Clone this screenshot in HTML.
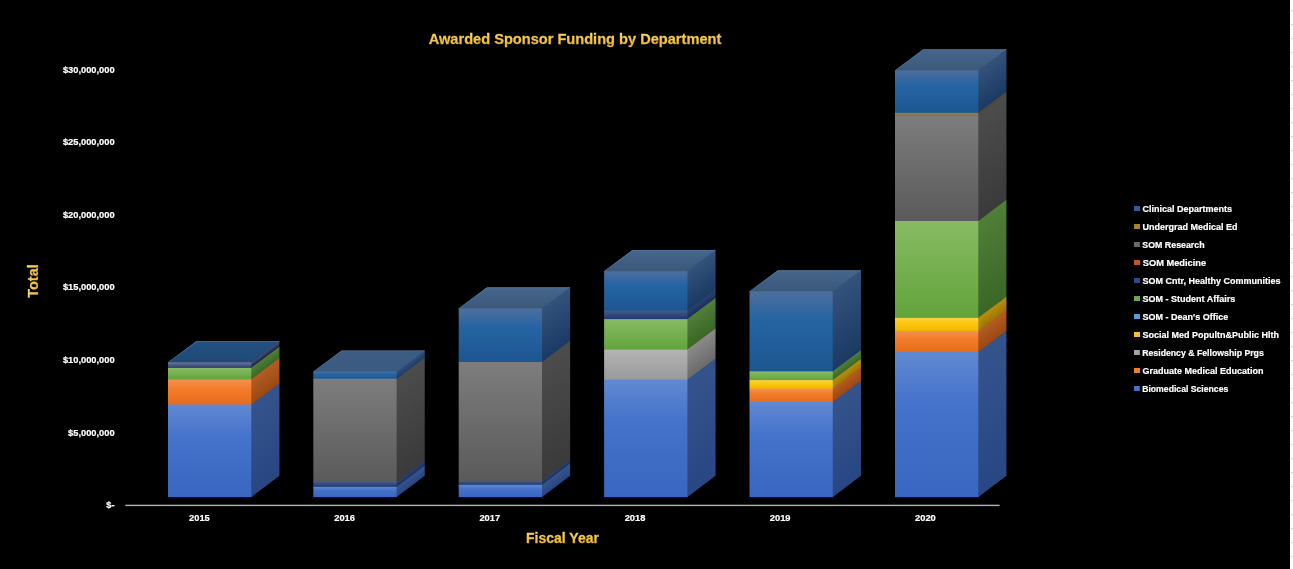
<!DOCTYPE html>
<html><head><meta charset="utf-8"><style>
html,body{margin:0;padding:0;background:#000;}
body{will-change:transform;width:1293px;height:569px;position:relative;overflow:hidden;font-family:"Liberation Sans",Arial,sans-serif;}
.edge{position:absolute;left:1290px;top:0;width:3px;height:569px;background:#fff;}
.title{position:absolute;left:275px;width:600px;top:29.5px;text-align:center;color:#f4c246;background:linear-gradient(180deg,#f9d566 20%,#eeb52e 85%);-webkit-background-clip:text;background-clip:text;-webkit-text-fill-color:transparent;-webkit-text-stroke:0.35px transparent;font-weight:bold;font-size:15.5px;line-height:18px;white-space:nowrap;transform:scaleX(0.942);}
.yl{position:absolute;right:1178.4px;color:#fff;-webkit-text-stroke:0.2px #fff;font-weight:bold;font-size:9.3px;line-height:12px;white-space:nowrap;text-align:right;}
.xl{position:absolute;top:512px;width:40px;text-align:center;color:#fff;-webkit-text-stroke:0.2px #fff;font-weight:bold;font-size:9.3px;line-height:12px;}
.xt{position:absolute;left:462.5px;width:200px;top:529px;text-align:center;color:#f4c246;background:linear-gradient(180deg,#f9d566 20%,#eeb52e 85%);-webkit-background-clip:text;background-clip:text;-webkit-text-fill-color:transparent;-webkit-text-stroke:0.35px transparent;font-weight:bold;font-size:14px;line-height:18px;}
.yt{position:absolute;left:32.5px;top:281.2px;width:60px;height:18px;margin-left:-30px;margin-top:-9px;text-align:center;color:#f4c246;background:linear-gradient(180deg,#f9d566 20%,#eeb52e 85%);-webkit-background-clip:text;background-clip:text;-webkit-text-fill-color:transparent;-webkit-text-stroke:0.35px transparent;font-weight:bold;font-size:15.5px;line-height:18px;transform:rotate(-90deg) scaleX(0.93);}
.lg{position:absolute;left:1134px;color:#fff;-webkit-text-stroke:0.2px #fff;font-weight:bold;font-size:9px;line-height:12px;white-space:nowrap;}
.sw{display:inline-block;width:6px;height:5px;margin-right:2.5px;vertical-align:1.5px;}
svg{position:absolute;left:0;top:0;}
</style></head><body>
<svg width="1293" height="569" viewBox="0 0 1293 569">
<defs>
<linearGradient id="f_blue" x1="0" y1="0" x2="0" y2="1"><stop offset="0" stop-color="#6189d2"/><stop offset="0.35" stop-color="#4573cb"/><stop offset="1" stop-color="#3866c0"/></linearGradient>
<linearGradient id="s_blue" x1="0" y1="0" x2="0" y2="1"><stop offset="0" stop-color="#35538b"/><stop offset="1" stop-color="#284783"/></linearGradient>
<linearGradient id="f_orange" x1="0" y1="0" x2="0" y2="1"><stop offset="0" stop-color="#f39252"/><stop offset="0.35" stop-color="#f47d2c"/><stop offset="1" stop-color="#e46c1b"/></linearGradient>
<linearGradient id="s_orange" x1="0" y1="0" x2="0" y2="1"><stop offset="0" stop-color="#b45c22"/><stop offset="1" stop-color="#9a4814"/></linearGradient>
<linearGradient id="f_lgray" x1="0" y1="0" x2="0" y2="1"><stop offset="0" stop-color="#b4b4b4"/><stop offset="1" stop-color="#999999"/></linearGradient>
<linearGradient id="s_lgray" x1="0" y1="0" x2="0" y2="1"><stop offset="0" stop-color="#8a8a8a"/><stop offset="1" stop-color="#6a6a6a"/></linearGradient>
<linearGradient id="f_yellow" x1="0" y1="0" x2="0" y2="1"><stop offset="0" stop-color="#f6d54e"/><stop offset="0.35" stop-color="#fec80c"/><stop offset="1" stop-color="#efb600"/></linearGradient>
<linearGradient id="s_yellow" x1="0" y1="0" x2="0" y2="1"><stop offset="0" stop-color="#b88d10"/><stop offset="1" stop-color="#9c7600"/></linearGradient>
<linearGradient id="f_green" x1="0" y1="0" x2="0" y2="1"><stop offset="0" stop-color="#87bb63"/><stop offset="1" stop-color="#62a33a"/></linearGradient>
<linearGradient id="s_green" x1="0" y1="0" x2="0" y2="1"><stop offset="0" stop-color="#507f38"/><stop offset="1" stop-color="#3b6626"/></linearGradient>
<linearGradient id="f_navy" x1="0" y1="0" x2="0" y2="1"><stop offset="0" stop-color="#435d88"/><stop offset="1" stop-color="#1c3470"/></linearGradient>
<linearGradient id="s_navy" x1="0" y1="0" x2="0" y2="1"><stop offset="0" stop-color="#2c4270"/><stop offset="1" stop-color="#1a2c58"/></linearGradient>
<linearGradient id="f_navy15" x1="0" y1="0" x2="0" y2="1"><stop offset="0" stop-color="#6f7594"/><stop offset="1" stop-color="#1e3868"/></linearGradient>
<linearGradient id="s_navy15" x1="0" y1="0" x2="0" y2="1"><stop offset="0" stop-color="#4e5574"/><stop offset="1" stop-color="#131d3a"/></linearGradient>
<linearGradient id="f_gray" x1="0" y1="0" x2="0" y2="1"><stop offset="0" stop-color="#7d7d7d"/><stop offset="1" stop-color="#5a5a5a"/></linearGradient>
<linearGradient id="s_gray" x1="0" y1="0" x2="0" y2="1"><stop offset="0" stop-color="#4c4c4c"/><stop offset="1" stop-color="#3a3a3a"/></linearGradient>
<linearGradient id="f_gold" x1="0" y1="0" x2="0" y2="1"><stop offset="0" stop-color="#9c8646"/><stop offset="1" stop-color="#7e6c38"/></linearGradient>
<linearGradient id="s_gold" x1="0" y1="0" x2="0" y2="1"><stop offset="0" stop-color="#5c5030"/><stop offset="1" stop-color="#4a4028"/></linearGradient>
<linearGradient id="f_clin" x1="0" y1="0" x2="0" y2="1"><stop offset="0" stop-color="#4c6f9e"/><stop offset="0.35" stop-color="#2564a3"/><stop offset="1" stop-color="#1c5690"/></linearGradient>
<linearGradient id="s_clin" x1="0" y1="0" x2="0" y2="1"><stop offset="0" stop-color="#33537c"/><stop offset="1" stop-color="#1a3a63"/></linearGradient>
<linearGradient id="t_0" x1="0" y1="0" x2="0" y2="1"><stop offset="0" stop-color="#22507f"/><stop offset="1" stop-color="#1f4a78"/></linearGradient>
<linearGradient id="t_1" x1="0" y1="0" x2="0" y2="1"><stop offset="0" stop-color="#3c5c84"/><stop offset="1" stop-color="#3a5a80"/></linearGradient>
<linearGradient id="t_2" x1="0" y1="0" x2="0" y2="1"><stop offset="0" stop-color="#46668c"/><stop offset="1" stop-color="#3a5879"/></linearGradient>
<linearGradient id="t_3" x1="0" y1="0" x2="0" y2="1"><stop offset="0" stop-color="#46668c"/><stop offset="1" stop-color="#3a5879"/></linearGradient>
<linearGradient id="t_4" x1="0" y1="0" x2="0" y2="1"><stop offset="0" stop-color="#46668c"/><stop offset="1" stop-color="#3a5879"/></linearGradient>
<linearGradient id="t_5" x1="0" y1="0" x2="0" y2="1"><stop offset="0" stop-color="#46668c"/><stop offset="1" stop-color="#3a5879"/></linearGradient>
</defs>
<rect x="-0.6" y="0" width="28.75" height="6.8" transform="matrix(1 -0.753 0 1 251.3 361.7)" fill="url(#s_navy15)"/>
<rect x="-0.6" y="0" width="28.75" height="12" transform="matrix(1 -0.753 0 1 251.3 367.9)" fill="url(#s_green)"/>
<rect x="-0.6" y="0" width="28.75" height="25.8" transform="matrix(1 -0.753 0 1 251.3 379.3)" fill="url(#s_orange)"/>
<rect x="-0.6" y="0" width="28.75" height="92.5" transform="matrix(1 -0.753 0 1 251.3 404.5)" fill="url(#s_blue)"/>
<rect x="0" y="0" width="83.3" height="21.8" transform="matrix(1 0 -1.328 1 196.15 341.1)" fill="url(#t_0)"/>
<path d="M168.6 362L196.55 341.6L278.95 341.6" fill="none" stroke="#6680a4" stroke-opacity="0.45" stroke-width="1"/>
<rect x="168" y="497" width="84.3" height="1.6" fill="#020a2c"/>
<rect x="168" y="362.3" width="83.3" height="6.2" fill="url(#f_navy15)"/>
<rect x="168" y="367.9" width="83.3" height="12" fill="url(#f_green)"/>
<rect x="168" y="379.3" width="83.3" height="25.8" fill="url(#f_orange)"/>
<rect x="168" y="404.5" width="83.3" height="92.5" fill="url(#f_blue)"/>
<rect x="-0.6" y="0" width="28.75" height="8.3" transform="matrix(1 -0.753 0 1 396.6 371)" fill="url(#s_clin)"/>
<rect x="-0.6" y="0" width="28.75" height="103.8" transform="matrix(1 -0.753 0 1 396.6 378.7)" fill="url(#s_gray)"/>
<rect x="-0.6" y="0" width="28.75" height="5.5" transform="matrix(1 -0.753 0 1 396.6 481.9)" fill="url(#s_navy)"/>
<rect x="-0.6" y="0" width="28.75" height="10.2" transform="matrix(1 -0.753 0 1 396.6 486.8)" fill="url(#s_blue)"/>
<rect x="0" y="0" width="83.3" height="21.8" transform="matrix(1 0 -1.328 1 341.45 350.4)" fill="url(#t_1)"/>
<path d="M313.9 371.3L341.85 350.9L424.25 350.9" fill="none" stroke="#6680a4" stroke-opacity="0.45" stroke-width="1"/>
<rect x="313.3" y="497" width="84.3" height="1.6" fill="#020a2c"/>
<rect x="313.3" y="371.6" width="83.3" height="7.7" fill="url(#f_clin)"/>
<rect x="313.3" y="378.7" width="83.3" height="103.8" fill="url(#f_gray)"/>
<rect x="313.3" y="481.9" width="83.3" height="5.5" fill="url(#f_navy)"/>
<rect x="313.3" y="486.8" width="83.3" height="10.2" fill="url(#f_blue)"/>
<rect x="-0.6" y="0" width="28.75" height="54.8" transform="matrix(1 -0.753 0 1 542 307.8)" fill="url(#s_clin)"/>
<rect x="-0.6" y="0" width="28.75" height="119.5" transform="matrix(1 -0.753 0 1 542 362)" fill="url(#s_gray)"/>
<rect x="-0.6" y="0" width="28.75" height="4.5" transform="matrix(1 -0.753 0 1 542 480.9)" fill="url(#s_navy)"/>
<rect x="-0.6" y="0" width="28.75" height="12.2" transform="matrix(1 -0.753 0 1 542 484.8)" fill="url(#s_blue)"/>
<rect x="0" y="0" width="83.3" height="21.8" transform="matrix(1 0 -1.328 1 486.85 287.2)" fill="url(#t_2)"/>
<path d="M459.3 308.1L487.25 287.7L569.65 287.7" fill="none" stroke="#6680a4" stroke-opacity="0.45" stroke-width="1"/>
<rect x="458.7" y="497" width="84.3" height="1.6" fill="#020a2c"/>
<rect x="458.7" y="308.4" width="83.3" height="54.2" fill="url(#f_clin)"/>
<rect x="458.7" y="362" width="83.3" height="119.5" fill="url(#f_gray)"/>
<rect x="458.7" y="480.9" width="83.3" height="4.5" fill="url(#f_navy)"/>
<rect x="458.7" y="484.8" width="83.3" height="12.2" fill="url(#f_blue)"/>
<rect x="-0.6" y="0" width="28.75" height="40.6" transform="matrix(1 -0.753 0 1 687.4 270.5)" fill="url(#s_clin)"/>
<rect x="-0.6" y="0" width="28.75" height="9.2" transform="matrix(1 -0.753 0 1 687.4 310.5)" fill="url(#s_navy)"/>
<rect x="-0.6" y="0" width="28.75" height="31.1" transform="matrix(1 -0.753 0 1 687.4 319.1)" fill="url(#s_green)"/>
<rect x="-0.6" y="0" width="28.75" height="30.6" transform="matrix(1 -0.753 0 1 687.4 349.6)" fill="url(#s_lgray)"/>
<rect x="-0.6" y="0" width="28.75" height="117.4" transform="matrix(1 -0.753 0 1 687.4 379.6)" fill="url(#s_blue)"/>
<rect x="0" y="0" width="83.3" height="21.8" transform="matrix(1 0 -1.328 1 632.25 249.9)" fill="url(#t_3)"/>
<path d="M604.7 270.8L632.65 250.4L715.05 250.4" fill="none" stroke="#6680a4" stroke-opacity="0.45" stroke-width="1"/>
<rect x="604.1" y="497" width="84.3" height="1.6" fill="#020a2c"/>
<rect x="604.1" y="271.1" width="83.3" height="40" fill="url(#f_clin)"/>
<rect x="604.1" y="310.5" width="83.3" height="9.2" fill="url(#f_navy)"/>
<rect x="604.1" y="319.1" width="83.3" height="31.1" fill="url(#f_green)"/>
<rect x="604.1" y="349.6" width="83.3" height="30.6" fill="url(#f_lgray)"/>
<rect x="604.1" y="379.6" width="83.3" height="117.4" fill="url(#f_blue)"/>
<rect x="-0.6" y="0" width="28.75" height="81.2" transform="matrix(1 -0.753 0 1 832.8 290.8)" fill="url(#s_clin)"/>
<rect x="-0.6" y="0" width="28.75" height="9.3" transform="matrix(1 -0.753 0 1 832.8 371.4)" fill="url(#s_green)"/>
<rect x="-0.6" y="0" width="28.75" height="9.1" transform="matrix(1 -0.753 0 1 832.8 380.1)" fill="url(#s_yellow)"/>
<rect x="-0.6" y="0" width="28.75" height="13.9" transform="matrix(1 -0.753 0 1 832.8 388.6)" fill="url(#s_orange)"/>
<rect x="-0.6" y="0" width="28.75" height="95.1" transform="matrix(1 -0.753 0 1 832.8 401.9)" fill="url(#s_blue)"/>
<rect x="0" y="0" width="83.3" height="21.8" transform="matrix(1 0 -1.328 1 777.65 270.2)" fill="url(#t_4)"/>
<path d="M750.1 291.1L778.05 270.7L860.45 270.7" fill="none" stroke="#6680a4" stroke-opacity="0.45" stroke-width="1"/>
<rect x="749.5" y="497" width="84.3" height="1.6" fill="#020a2c"/>
<rect x="749.5" y="291.4" width="83.3" height="80.6" fill="url(#f_clin)"/>
<rect x="749.5" y="371.4" width="83.3" height="9.3" fill="url(#f_green)"/>
<rect x="749.5" y="380.1" width="83.3" height="9.1" fill="url(#f_yellow)"/>
<rect x="749.5" y="388.6" width="83.3" height="13.9" fill="url(#f_orange)"/>
<rect x="749.5" y="401.9" width="83.3" height="95.1" fill="url(#f_blue)"/>
<rect x="-0.6" y="0" width="28.75" height="43.7" transform="matrix(1 -0.753 0 1 978.3 69.8)" fill="url(#s_clin)"/>
<rect x="-0.6" y="0" width="28.75" height="3" transform="matrix(1 -0.753 0 1 978.3 112.9)" fill="url(#s_gold)"/>
<rect x="-0.6" y="0" width="28.75" height="106.3" transform="matrix(1 -0.753 0 1 978.3 115.3)" fill="url(#s_gray)"/>
<rect x="-0.6" y="0" width="28.75" height="97.5" transform="matrix(1 -0.753 0 1 978.3 221)" fill="url(#s_green)"/>
<rect x="-0.6" y="0" width="28.75" height="13.6" transform="matrix(1 -0.753 0 1 978.3 317.9)" fill="url(#s_yellow)"/>
<rect x="-0.6" y="0" width="28.75" height="21.6" transform="matrix(1 -0.753 0 1 978.3 330.9)" fill="url(#s_orange)"/>
<rect x="-0.6" y="0" width="28.75" height="145.1" transform="matrix(1 -0.753 0 1 978.3 351.9)" fill="url(#s_blue)"/>
<rect x="0" y="0" width="83.3" height="21.8" transform="matrix(1 0 -1.328 1 923.15 49.2)" fill="url(#t_5)"/>
<path d="M895.6 70.1L923.55 49.7L1005.95 49.7" fill="none" stroke="#6680a4" stroke-opacity="0.45" stroke-width="1"/>
<rect x="895" y="497" width="84.3" height="1.6" fill="#020a2c"/>
<rect x="895" y="70.4" width="83.3" height="43.1" fill="url(#f_clin)"/>
<rect x="895" y="112.9" width="83.3" height="3" fill="url(#f_gold)"/>
<rect x="895" y="115.3" width="83.3" height="106.3" fill="url(#f_gray)"/>
<rect x="895" y="221" width="83.3" height="97.5" fill="url(#f_green)"/>
<rect x="895" y="317.9" width="83.3" height="13.6" fill="url(#f_yellow)"/>
<rect x="895" y="330.9" width="83.3" height="21.6" fill="url(#f_orange)"/>
<rect x="895" y="351.9" width="83.3" height="145.1" fill="url(#f_blue)"/>
<rect x="125.3" y="504.7" width="874.3" height="1.4" fill="#b2b2b2"/>
</svg>
<div class="title">Awarded Sponsor Funding by Department</div>
<div class="yl" style="top:498.8px">$-</div><div class="yl" style="top:426.8px">$5,000,000</div><div class="yl" style="top:353.6px">$10,000,000</div><div class="yl" style="top:280.7px">$15,000,000</div><div class="yl" style="top:208.7px">$20,000,000</div><div class="yl" style="top:135.9px">$25,000,000</div><div class="yl" style="top:63.9px">$30,000,000</div>
<div class="xl" style="left:179.4px">2015</div><div class="xl" style="left:324.6px">2016</div><div class="xl" style="left:469.8px">2017</div><div class="xl" style="left:615.0px">2018</div><div class="xl" style="left:760.2px">2019</div><div class="xl" style="left:905.4px">2020</div>
<div class="xt">Fiscal Year</div>
<div class="yt">Total</div>
<div class="lg" style="top:203.0px"><span class="sw" style="background:#2f5e96"></span>Clinical Departments</div><div class="lg" style="top:221.0px"><span class="sw" style="background:#a48232"></span>Undergrad Medical Ed</div><div class="lg" style="top:239.0px;transform:scaleX(0.98);transform-origin:0 50%"><span class="sw" style="background:#6a6a6a"></span>SOM Research</div><div class="lg" style="top:257.0px;transform:scaleX(1.03);transform-origin:0 50%"><span class="sw" style="background:#b85a22"></span>SOM Medicine</div><div class="lg" style="top:275.0px"><span class="sw" style="background:#2e4a88"></span>SOM Cntr, Healthy Communities</div><div class="lg" style="top:293.0px"><span class="sw" style="background:#6aa84a"></span>SOM - Student Affairs</div><div class="lg" style="top:311.0px"><span class="sw" style="background:#5b9bd5"></span>SOM - Dean's Office</div><div class="lg" style="top:329.0px"><span class="sw" style="background:#f2c12e"></span>Social Med Popultn&amp;Public Hlth</div><div class="lg" style="top:347.0px;transform:scaleX(0.968);transform-origin:0 50%"><span class="sw" style="background:#a5a5a5"></span>Residency &amp; Fellowship Prgs</div><div class="lg" style="top:365.0px"><span class="sw" style="background:#ed7d31"></span>Graduate Medical Education</div><div class="lg" style="top:383.0px;transform:scaleX(0.962);transform-origin:0 50%"><span class="sw" style="background:#4472c4"></span>Biomedical Sciences</div>
<div class="edge"></div>
<svg width="1293" height="569" viewBox="0 0 1293 569" style="position:absolute;left:0;top:0"><rect x="1291" y="10" width="2" height="1" fill="#d4d4d4"/><rect x="1291" y="24" width="2" height="1" fill="#d4d4d4"/><rect x="1291" y="38" width="2" height="1" fill="#d4d4d4"/><rect x="1291" y="52" width="2" height="1" fill="#d4d4d4"/><rect x="1291" y="66" width="2" height="1" fill="#d4d4d4"/><rect x="1291" y="80" width="2" height="1" fill="#d4d4d4"/><rect x="1291" y="94" width="2" height="1" fill="#d4d4d4"/><rect x="1291" y="108" width="2" height="1" fill="#d4d4d4"/><rect x="1291" y="122" width="2" height="1" fill="#d4d4d4"/><rect x="1291" y="136" width="2" height="1" fill="#d4d4d4"/><rect x="1291" y="150" width="2" height="1" fill="#d4d4d4"/><rect x="1291" y="164" width="2" height="1" fill="#d4d4d4"/><rect x="1291" y="178" width="2" height="1" fill="#d4d4d4"/><rect x="1291" y="192" width="2" height="1" fill="#d4d4d4"/><rect x="1291" y="206" width="2" height="1" fill="#d4d4d4"/><rect x="1291" y="220" width="2" height="1" fill="#d4d4d4"/><rect x="1291" y="234" width="2" height="1" fill="#d4d4d4"/><rect x="1291" y="248" width="2" height="1" fill="#d4d4d4"/><rect x="1291" y="262" width="2" height="1" fill="#d4d4d4"/><rect x="1291" y="276" width="2" height="1" fill="#d4d4d4"/><rect x="1291" y="290" width="2" height="1" fill="#d4d4d4"/><rect x="1291" y="304" width="2" height="1" fill="#d4d4d4"/><rect x="1291" y="318" width="2" height="1" fill="#d4d4d4"/><rect x="1291" y="332" width="2" height="1" fill="#d4d4d4"/><rect x="1291" y="346" width="2" height="1" fill="#d4d4d4"/><rect x="1291" y="360" width="2" height="1" fill="#d4d4d4"/><rect x="1291" y="374" width="2" height="1" fill="#d4d4d4"/><rect x="1291" y="388" width="2" height="1" fill="#d4d4d4"/><rect x="1291" y="402" width="2" height="1" fill="#d4d4d4"/><rect x="1291" y="416" width="2" height="1" fill="#d4d4d4"/><rect x="1291" y="430" width="2" height="1" fill="#d4d4d4"/><rect x="1291" y="444" width="2" height="1" fill="#d4d4d4"/><rect x="1291" y="458" width="2" height="1" fill="#d4d4d4"/><rect x="1291" y="472" width="2" height="1" fill="#d4d4d4"/><rect x="1291" y="486" width="2" height="1" fill="#d4d4d4"/><rect x="1291" y="500" width="2" height="1" fill="#d4d4d4"/><rect x="1291" y="514" width="2" height="1" fill="#d4d4d4"/><rect x="1291" y="528" width="2" height="1" fill="#d4d4d4"/><rect x="1291" y="542" width="2" height="1" fill="#d4d4d4"/><rect x="1291" y="556" width="2" height="1" fill="#d4d4d4"/></svg>
</body></html>
